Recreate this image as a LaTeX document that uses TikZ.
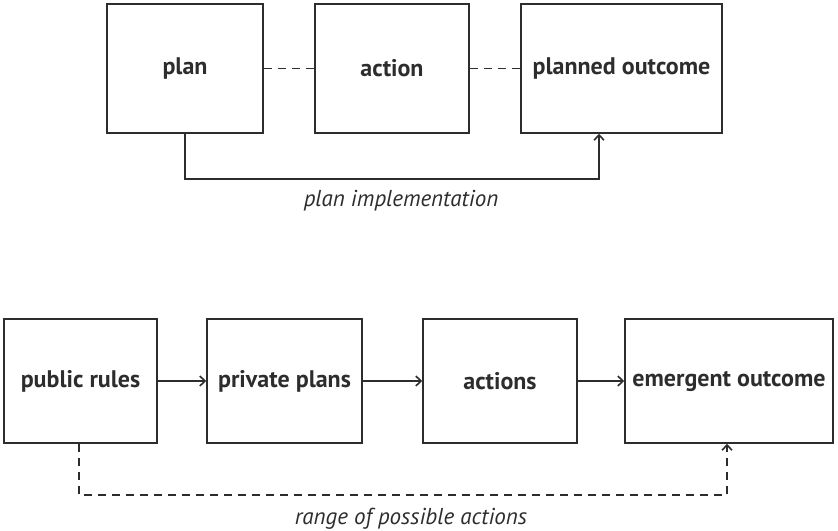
\documentclass[tikz,border=0pt]{standalone}
\usepackage{fontspec}
\setmainfont{PT Sans}
\usetikzlibrary{
	positioning,
	arrows.meta
}
\definecolor{InkGray}{RGB}{45,45,45}

\tikzset{
	stagebox/.style={
		draw=InkGray,
		line width=0.85pt,
		minimum height=64.5pt,
		font=\bfseries\fontsize{12}{14}\selectfont,
		text=InkGray,
		inner sep=0pt
	},
	linkline/.style={
		InkGray,
		line width=0.8pt
	},
	barb/.style={
		-{Straight Barb[length=2.6pt,width=5pt]}
	}
}

\begin{document}
\begin{tikzpicture}[x=0.5pt,y=-0.5pt]

	\useasboundingbox (0,0) rectangle (838,530);

	% Planned order
	\node[stagebox, minimum width=78pt] (plan) at (185,68.5) {plan};
	\node[stagebox, minimum width=77pt] (action) at (392,68.5) {action};
	\node[stagebox, minimum width=100.5pt] (planned) at (621.5,68.5) {planned outcome};

	\draw[
	linkline,
	dash pattern=on 4pt off 3pt
	]
	(plan) -- (action);

	\draw[
	linkline,
	dash pattern=on 4pt off 3pt
	]
	(action) -- (planned);

	\coordinate (plantip) at ([xshift=-11.25pt]planned.south);

	\draw[
	linkline,
	barb
	]
	(plan.south) -- ++(0,45) -| (plantip);

	\node[text=InkGray, font=\itshape\fontsize{11.5}{13}\selectfont]
	(implement) at (401,201) {plan implementation};

	% Spontaneous order
	\node[stagebox, minimum width=76.5pt, minimum height=62pt] (rules) at (80.5,381) {public rules};
	\node[stagebox, minimum width=77.5pt, minimum height=62pt] (privplans) at (284.5,381) {private plans};
	\node[stagebox, minimum width=77pt, minimum height=62pt] (actions) at (500,381) {actions};
	\node[stagebox, minimum width=104pt, minimum height=62pt] (emergent) at (729,381) {emergent outcome};

	\draw[
	linkline,
	barb
	]
	(rules) -- (privplans);

	\draw[
	linkline,
	barb
	]
	(privplans) -- (actions);

	\draw[
	linkline,
	barb
	]
	(actions) -- (emergent);

	\coordinate (emergtip) at ([xshift=-1pt]emergent.south);

	\draw[
	linkline,
	barb,
	dash pattern=on 4pt off 3pt
	]
	([xshift=-0.75pt]rules.south) -- ++(0,51) -| (emergtip);

	\node[text=InkGray, font=\itshape\fontsize{11.5}{13}\selectfont]
	(range) at (411,519) {range of possible actions};

\end{tikzpicture}
\end{document}
